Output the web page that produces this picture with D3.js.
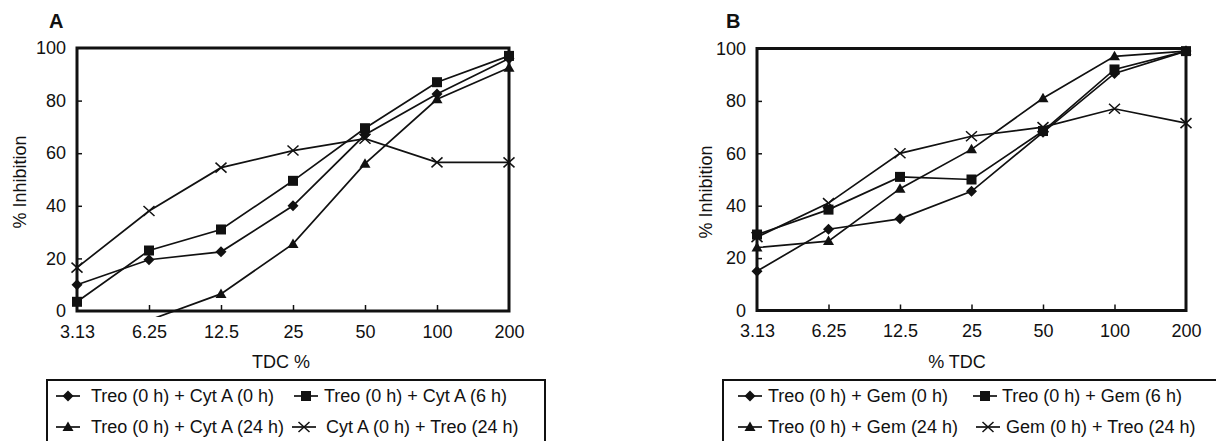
<!DOCTYPE html>
<html><head><meta charset="utf-8">
<script src="https://cdn.jsdelivr.net/npm/d3@7"></script>
<style>
html,body{margin:0;padding:0;background:#fff;}
svg{display:block;font-family:"Liberation Sans",Arial,sans-serif;}
</style></head>
<body>
<svg id="chart" width="1216" height="441"></svg>
<script>
// ---- data ----
const categories = ["3.13", "6.25", "12.5", "25", "50", "100", "200"];
const yTicks = [0, 20, 40, 60, 80, 100];

// Panel A (Cyt A)
const aLabels = ["Treo (0 h) + Cyt A (0 h)", "Treo (0 h) + Cyt A (6 h)", "Treo (0 h) + Cyt A (24 h)", "Cyt A (0 h) + Treo (24 h)"];
const aDiamond  = [10, 19.5, 22.5, 40, 67, 82.5, 96];
const aSquare   = [3.5, 23, 31, 49.5, 69.5, 87, 97];
const aTriangle = [null, -3.5, 6.5, 25.5, 56, 80.5, 92.5];
const aCross    = [16.5, 38, 54.5, 61, 65.5, 56.5, 56.5];

// Panel B (Gem)
const bLabels = ["Treo (0 h) + Gem (0 h)", "Treo (0 h) + Gem (6 h)", "Treo (0 h) + Gem (24 h)", "Gem (0 h) + Treo (24 h)"];
const bDiamond  = [15, 31, 35, 45.5, 68, 90.5, 99];
const bSquare   = [29, 38.5, 51, 50, 68.5, 92, 99];
const bTriangle = [24, 26.5, 46.5, 61.5, 81, 97, 99];
const bCross    = [28, 41, 60, 66.5, 70, 77, 71.5];

const markers = ["diamond", "square", "triangle", "cross"];

const svg = d3.select("#chart");

function drawMarker(g, type, x, y) {
  if (type === "diamond") {
    g.append("path").attr("d", `M${x},${y-5.5}L${x+5.5},${y}L${x},${y+5.5}L${x-5.5},${y}Z`).attr("fill", "#111");
  } else if (type === "square") {
    g.append("rect").attr("x", x-5).attr("y", y-5).attr("width", 10).attr("height", 10).attr("fill", "#111");
  } else if (type === "triangle") {
    g.append("path").attr("d", `M${x},${y-5.5}L${x+5.5},${y+4}L${x-5.5},${y+4}Z`).attr("fill", "#111");
  } else {
    g.append("path").attr("d", `M${x-5.5},${y-5}L${x+5.5},${y+5}M${x-5.5},${y+5}L${x+5.5},${y-5}`)
      .attr("stroke", "#111").attr("stroke-width", 1.5).attr("fill", "none");
  }
}

function drawPanel(cfg) {
  const g = svg.append("g");
  const x = d3.scalePoint().domain(categories).range([cfg.left, cfg.right]);
  const y = d3.scaleLinear().domain([0, 100]).range([cfg.bottom, cfg.top]);

  const clipId = "clip" + cfg.name;
  svg.append("clipPath").attr("id", clipId).append("rect")
    .attr("x", cfg.left - 10).attr("y", cfg.top - 10)
    .attr("width", cfg.right - cfg.left + 20).attr("height", cfg.bottom - cfg.top + 16);

  // frame
  g.append("rect").attr("x", cfg.left).attr("y", cfg.top)
    .attr("width", cfg.right - cfg.left).attr("height", cfg.bottom - cfg.top)
    .attr("fill", "none").attr("stroke", "#111").attr("stroke-width", 3);

  // axes via d3 axis (inward ticks)
  const xAxis = g.append("g").attr("transform", `translate(0,${cfg.bottom})`)
    .call(d3.axisBottom(x).tickSize(-6).tickPadding(14));
  xAxis.select(".domain").remove();
  xAxis.selectAll("line").attr("stroke", "#111").attr("stroke-width", 1.5);
  xAxis.selectAll("text").attr("font-size", 18).attr("fill", "#111")
    .attr("font-family", "Liberation Sans, Arial, sans-serif");
  xAxis.selectAll(".tick").filter((d, i) => i === 0 || i === categories.length - 1).select("line").remove();

  const yAxis = g.append("g").attr("transform", `translate(${cfg.left},0)`)
    .call(d3.axisLeft(y).tickValues(yTicks).tickSize(-5).tickPadding(11));
  yAxis.select(".domain").remove();
  yAxis.selectAll("line").attr("stroke", "#111").attr("stroke-width", 1.5);
  yAxis.selectAll("text").attr("font-size", 18).attr("fill", "#111")
    .attr("font-family", "Liberation Sans, Arial, sans-serif");
  yAxis.selectAll(".tick").filter(d => d === 0 || d === 100).select("line").remove();

  // titles
  g.append("text").attr("x", cfg.xTitleX).attr("y", 368).attr("text-anchor", "middle")
    .attr("font-size", 18).attr("fill", "#111").text(cfg.xTitle);
  g.append("text").attr("transform", `translate(${cfg.yTitleX},${cfg.yTitleY}) rotate(-90)`)
    .attr("text-anchor", "middle").attr("dominant-baseline", "central")
    .attr("font-size", 18).attr("fill", "#111").text("% Inhibition");
  g.append("text").attr("x", cfg.labelX).attr("y", 28).attr("font-size", 20).attr("font-weight", "bold")
    .attr("fill", "#111").text(cfg.name);

  // series
  const line = d3.line().defined(d => d.v != null).x(d => x(d.c)).y(d => y(d.v));
  const lg = g.append("g").attr("clip-path", `url(#${clipId})`);
  cfg.series.forEach((vals, si) => {
    const pts = categories.map((c, i) => ({ c, v: vals[i] }));
    lg.append("path").datum(pts).attr("d", line).attr("fill", "none")
      .attr("stroke", "#111").attr("stroke-width", 1.7);
  });
  cfg.series.forEach((vals, si) => {
    categories.forEach((c, i) => {
      const v = vals[i];
      if (v != null && v >= 0) drawMarker(lg, markers[si], x(c), y(v));
    });
  });

  // legend
  g.append("rect").attr("x", cfg.legX).attr("y", 380).attr("width", cfg.legW).attr("height", 80)
    .attr("fill", "none").attr("stroke", "#111").attr("stroke-width", 2);
  cfg.legItems.forEach((it, i) => {
    const ly = it.y;
    g.append("line").attr("x1", it.mx - 12).attr("x2", it.mx + 12).attr("y1", ly).attr("y2", ly)
      .attr("stroke", "#111").attr("stroke-width", 1.7);
    drawMarker(g, markers[i], it.mx, ly);
    g.append("text").attr("x", it.tx).attr("y", ly).attr("dominant-baseline", "central")
      .attr("font-size", 18).attr("fill", "#111").text(cfg.labels[i]);
  });
}

drawPanel({
  name: "A", left: 77, right: 509, top: 48, bottom: 311,
  xTitle: "TDC %", xTitleX: 281, yTitleX: 20, yTitleY: 182, labelX: 49,
  series: [aDiamond, aSquare, aTriangle, aCross], labels: aLabels,
  legX: 47, legW: 498,
  legItems: [{ mx: 68, tx: 91, y: 396 }, { mx: 306, tx: 324, y: 396 },
             { mx: 68, tx: 91, y: 427 }, { mx: 304, tx: 326, y: 427 }]
});

drawPanel({
  name: "B", left: 757, right: 1186, top: 48.5, bottom: 310.5,
  xTitle: "% TDC", xTitleX: 957, yTitleX: 706, yTitleY: 192, labelX: 726,
  series: [bDiamond, bSquare, bTriangle, bCross], labels: bLabels,
  legX: 723, legW: 520,
  legItems: [{ mx: 750, tx: 768, y: 396 }, { mx: 985, tx: 1002, y: 396 },
             { mx: 750, tx: 768, y: 427 }, { mx: 988, tx: 1006, y: 427 }]
});
</script>
</body></html>
